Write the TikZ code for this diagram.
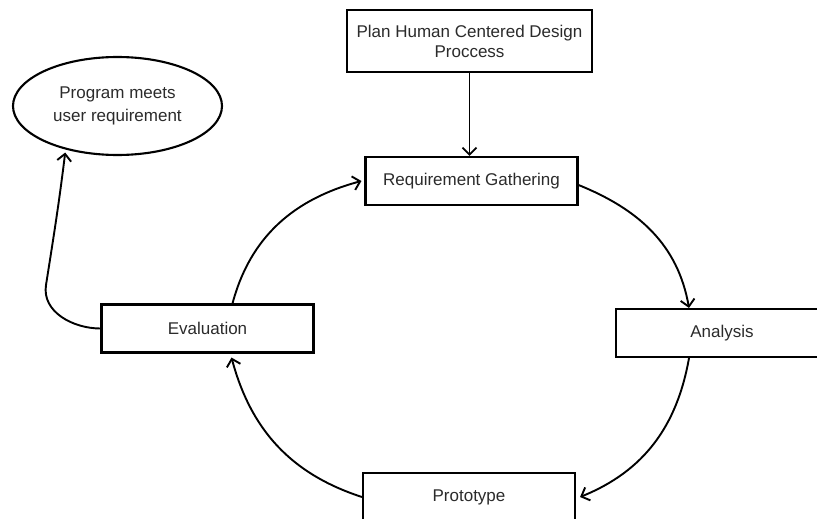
\documentclass[tikz,border=0pt]{standalone}
\usepackage{fontspec}
\setmainfont{Liberation Sans}
\usetikzlibrary{arrows.meta,shapes.geometric}
\definecolor{txt}{HTML}{2B2B2B}
\tikzset{
  x=1pt, y=1pt,
  box/.style={draw=black, line width=2.1pt, fill=white, minimum width=212pt, minimum height=48pt,
    inner sep=0pt, text=txt, font=\fontsize{17}{20}\selectfont, align=center},
  oval/.style={draw=black, line width=2.1pt, ellipse, minimum width=209pt, minimum height=98pt,
    inner sep=0pt, text=txt, font=\fontsize{17}{23}\selectfont, align=center},
  conn/.style={draw=black, line width=1.9pt, -{Straight Barb[length=7pt,width=14pt,line width=1.9pt]}},
}
\begin{document}
\begin{tikzpicture}
\useasboundingbox (0,0) rectangle (817,-519);
\clip (0,0) rectangle (817,-519);
\fill[white] (0,0) rectangle (817,-519);

\node[box, minimum width=245pt, minimum height=62pt] (plan) at (469.5,-41) {Plan Human Centered Design\\Proccess};
\node[box] (req) at (471.5,-181) {Requirement Gathering};
\node[box] (eval) at (207.5,-328.5) {Evaluation};
\node[box] (ana) at (722,-333) {Analysis};
\node[box] (proto) at (469,-497) {Prototype};
\node[oval] (ell) at (117.5,-106) {Program meets\\user requirement};

\draw[conn] (plan.south) -- (plan.south |- req.north);
\draw[conn] ([yshift=-4pt]req.east) to[out=-22, in=100] ([xshift=-33pt]ana.north);
\draw[conn] ([xshift=-33pt]ana.south) to[out=-100, in=22] ([xshift=4pt]proto.east);
\draw[conn] (proto.west) to[out=162, in=-75] ([xshift=24pt,yshift=-4pt]eval.south);
\draw[conn] ([xshift=25pt]eval.north) to[out=75, in=195] ([xshift=-3pt]req.west);
\coordinate (bend) at (46,-285);
\draw[conn, shorten >=3pt] (eval.west) to[out=180, in=-99] (bend) to[out=81, in=-97] (ell.-140);
\end{tikzpicture}
\end{document}
